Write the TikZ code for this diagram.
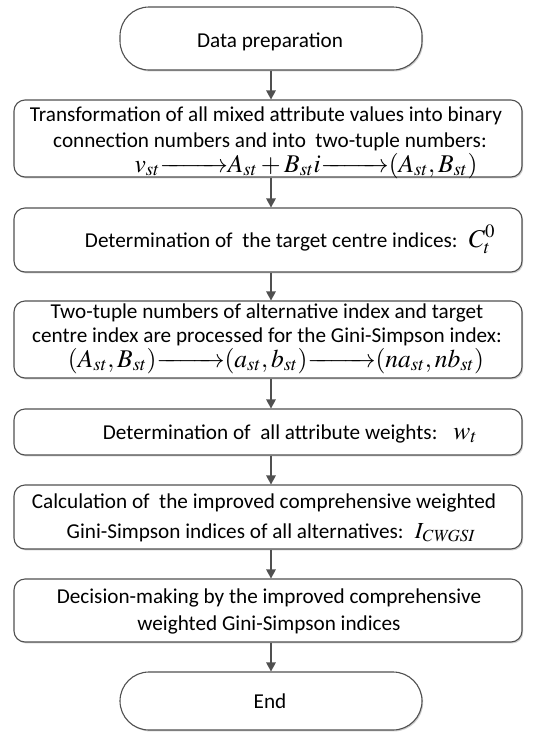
\documentclass[tikz,border=0pt]{standalone}
\usepackage{mathptmx}
\usepackage[no-math]{fontspec}
\setmainfont{Carlito}
\usetikzlibrary{shadows,arrows.meta}
\definecolor{edge}{HTML}{505050}
\definecolor{shade}{HTML}{BBBBBB}
\tikzset{
  box/.style={draw=edge, line width=1.1pt, fill=white, rounded corners=11pt,
    minimum width=508pt, inner sep=0pt,
    drop shadow={shadow xshift=1.2pt, shadow yshift=-1.4pt, fill=shade, opacity=0.7}},
  term/.style={box, rounded corners=29pt, minimum width=302pt},
  txt/.style={anchor=base, inner sep=0pt, font=\fontsize{21.2}{24}\selectfont},
  mth/.style={anchor=base, inner sep=0pt, font=\fontsize{25.5}{26}\selectfont},
  conn/.style={draw=edge, line width=1.3pt, -{Triangle[length=9pt,width=9.5pt]}},
}
\newcommand{\larr}{\mathrel{\hbox to 68pt{\rightarrowfill}}}
\newcommand{\nosp}{\thickmuskip=0mu}
\newcommand{\tight}[1]{\raisebox{0pt}[15pt][5pt]{#1}}
\begin{document}
\begin{tikzpicture}[x=1pt,y=-1pt]
\useasboundingbox (0,0) rectangle (536,732);
% boxes
\node[term, minimum height=63pt] (start) at (271,38.5) {};
\node[box, minimum height=77pt] (b1) at (268,138.5) {};
\node[box, minimum height=64pt] (b2) at (268,240) {};
\node[box, minimum height=77pt] (b3) at (268,339.5) {};
\node[box, minimum height=46pt] (b4) at (268,432) {};
\node[box, minimum height=64pt] (b5) at (268,517) {};
\node[box, minimum height=63pt] (b6) at (268,610.5) {};
\node[term, minimum height=58pt] (end) at (271,701) {};
% texts
\node[txt] (t0) at (270,47) {Data preparation};
\node[txt] (t1a) at (266,121) {Transformation of all mixed attribute values into binary};
\node[txt] (t1b) at (270,147) {connection numbers and into \ two-tuple numbers:};
\node[mth] (t1c) at (306,172) {\tight{\nosp$v_{st}\larr A_{st}+B_{st}i\larr(A_{st},B_{st})$}};
\node[txt] (t2) at (290,247) {Determination of \ the target centre indices: \ {\fontsize{25.5}{26}\selectfont$C_t^0$}};
\node[txt] (t3a) at (267,318) {Two-tuple numbers of alternative index and target};
\node[txt] (t3b) at (267,342) {centre index are processed for the Gini-Simpson index:};
\node[mth] (t3c) at (276,367) {\tight{\nosp$(A_{st},B_{st})\larr(a_{st},b_{st})\larr(na_{st},nb_{st})$}};
\node[txt] (t4) at (290,439) {Determination of \ all attribute weights: \ \ {\fontsize{25.5}{26}\selectfont$w_t$}};
\node[txt] (t5a) at (264,508) {Calculation of \ the improved comprehensive weighted};
\node[txt] (t5b) at (271,538) {Gini-Simpson indices of all alternatives: \ {\fontsize{23}{23}\selectfont$I_{\mathit{CWGSI}}$}};
\node[txt] (t6a) at (269,603) {Decision-making by the improved comprehensive};
\node[txt] (t6b) at (269,630) {weighted Gini-Simpson indices};
\node[txt] (t7) at (270,708) {End};
% connectors
\draw[conn] (start.south) -- (start.south |- b1.north);
\draw[conn] (b1.south -| start.south) -- (start.south |- b2.north);
\draw[conn] (b2.south -| start.south) -- (start.south |- b3.north);
\draw[conn] (b3.south -| start.south) -- (start.south |- b4.north);
\draw[conn] (b4.south -| start.south) -- (start.south |- b5.north);
\draw[conn] (b5.south -| start.south) -- (start.south |- b6.north);
\draw[conn] (b6.south -| start.south) -- (end.north);
\end{tikzpicture}
\end{document}
